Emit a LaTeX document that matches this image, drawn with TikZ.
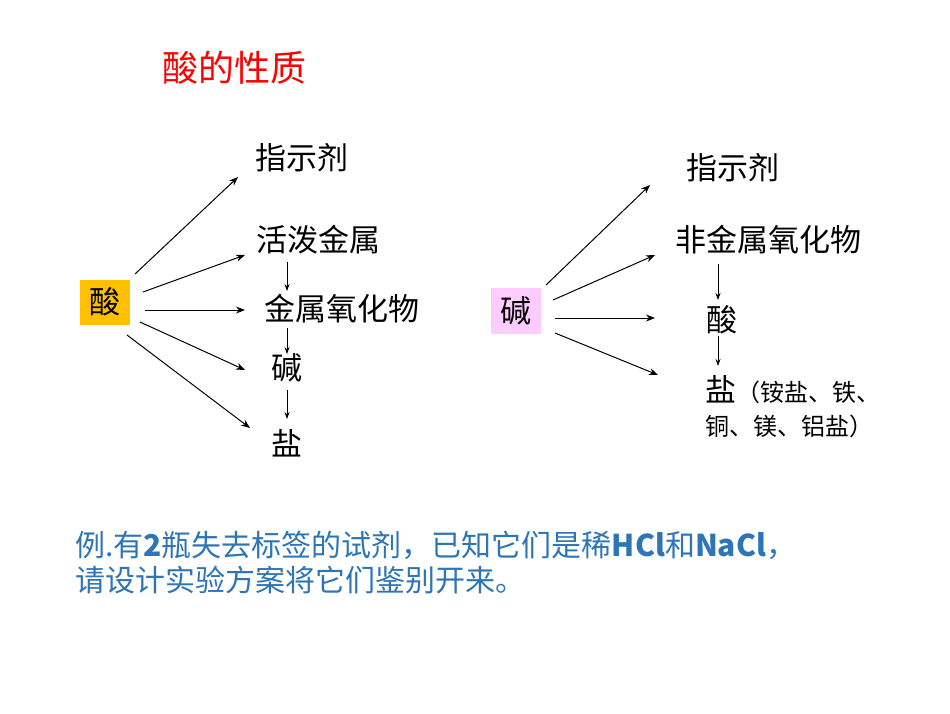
\documentclass[tikz,border=0pt]{standalone}
\usepackage{fontspec}
\usetikzlibrary{arrows.meta}
\setmainfont{Noto Sans CJK SC}
\definecolor{tred}{HTML}{FF0000}
\definecolor{tblue}{HTML}{2E75B6}
\definecolor{ybox}{HTML}{FFC000}
\definecolor{pbox}{HTML}{FFCCFF}
\begin{document}
\begin{tikzpicture}[x=1pt,y=-1pt,
  lbl/.style={inner sep=0pt,font=\fontsize{31}{34}\selectfont},
  arr/.style={-{Stealth[length=9pt,width=7pt]},line width=1pt},
  dar/.style={-{Stealth[length=7pt,width=5pt]},line width=0.8pt}]
\useasboundingbox (0,0) rectangle (950,713);
\node[inner sep=0pt,text=tred,font=\fontsize{36}{40}\selectfont] (t) at (234,68) {酸的性质};
\node[lbl,fill=ybox,minimum width=50pt,minimum height=45pt] (A) at (105,302) {酸};
\node[lbl] (a1) at (302,158) {指示剂};
\node[lbl] (a2) at (318,240) {活泼金属};
\node[lbl] (a3) at (342,309) {金属氧化物};
\node[lbl] (a4) at (287,368) {碱};
\node[lbl] (a5) at (287,443) {盐};
\coordinate (p1) at (238,177); \coordinate (p2) at (245,255);
\coordinate (p3) at (245,310); \coordinate (p4) at (245,370); \coordinate (p5) at (250,428);
\draw[arr] (135,274) -- (p1);
\draw[arr] (143,292) -- (p2);
\draw[arr] (145,310) -- (p3);
\draw[arr] (140,322) -- (p4);
\draw[arr] (127,335) -- (p5);
\draw[dar] (287,262) -- (287,291);
\draw[dar] (287,328) -- (287,354);
\draw[dar] (287,390) -- (287,419);
\node[lbl,fill=pbox,minimum width=50pt,minimum height=46pt] (B) at (516,311) {碱};
\node[lbl] (b1) at (733,168) {指示剂};
\node[lbl] (b2) at (768,240) {非金属氧化物};
\node[lbl] (b3) at (722,320) {酸};
\node[inner sep=0pt,anchor=west] (b4) at (705,390) {\fontsize{31}{34}\selectfont 盐\fontsize{24}{28}\selectfont （铵盐、铁、};
\node[inner sep=0pt,anchor=west,font=\fontsize{24}{28}\selectfont] (b5) at (705,426) {铜、镁、铝盐）};
\draw[arr] (546,285) -- (650,185);
\draw[arr] (553,300) -- (655,255);
\draw[arr] (555,318) -- (655,318);
\draw[arr] (555,333) -- (658,375);
\draw[dar] (718,264) -- (718,300);
\draw[dar] (718,336) -- (718,366);
\node[inner sep=0pt,anchor=west,text=tblue,font=\fontsize{30}{34}\selectfont] (e1) at (75,545) {例.有\textbf{2}瓶失去标签的试剂，已知它们是稀\textbf{HCl}和\textbf{NaCl}，};
\node[inner sep=0pt,anchor=west,text=tblue,font=\fontsize{30}{34}\selectfont] (e2) at (75,580) {请设计实验方案将它们鉴别开来。};
\end{tikzpicture}
\end{document}
